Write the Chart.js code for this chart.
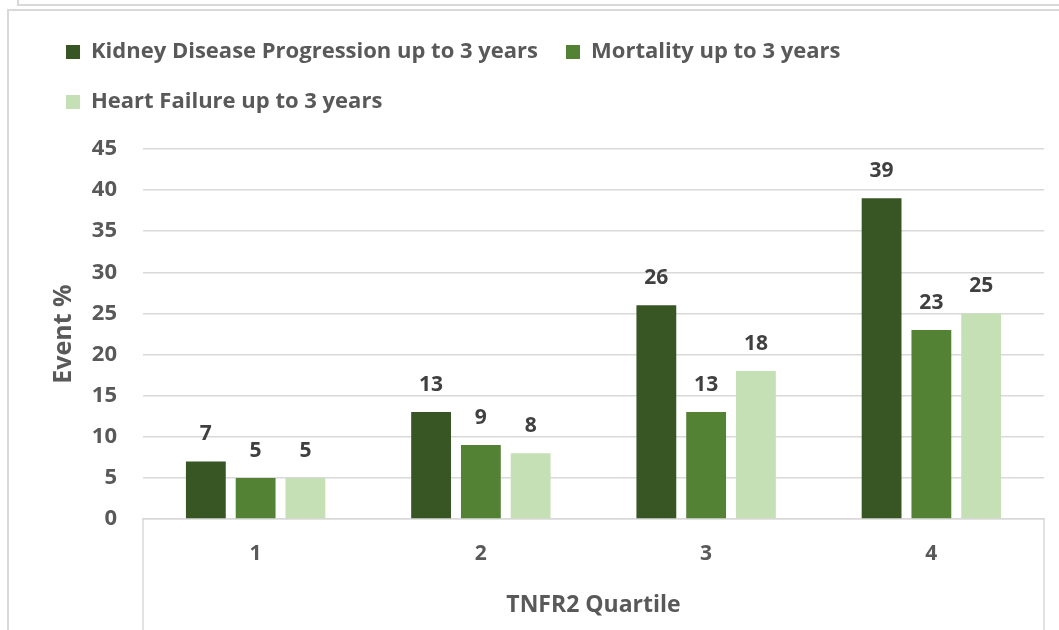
<!DOCTYPE html>
<html>
<head>
<meta charset="utf-8">
<script src="https://cdn.jsdelivr.net/npm/chart.js@4.4.1/dist/chart.umd.min.js"></script>
<style>
  html, body { margin: 0; padding: 0; background: #ffffff; overflow: hidden; }
  #wrap { position: relative; width: 1059px; height: 630px; }
  #frameTop { position: absolute; left: 17px; top: -10px; width: 2000px; height: 14px;
              border-left: 2px solid #d9d9d9; border-bottom: 2px solid #d9d9d9; }
  #frame { position: absolute; left: 7px; top: 9px; width: 2000px; height: 2000px;
           border-left: 2px solid #d9d9d9; border-top: 2px solid #d9d9d9; }
  canvas { position: absolute; left: 0; top: 0; }
</style>
</head>
<body>
<div id="wrap">
  <div id="frameTop"></div>
  <div id="frame"></div>
  <canvas id="c" width="1059" height="630"></canvas>
</div>
<script>
const categories = ['1', '2', '3', '4'];
const seriesNames = ['Kidney Disease Progression up to 3 years', 'Mortality up to 3 years', 'Heart Failure up to 3 years'];
const kidneyProgression = [7, 13, 26, 39];
const mortality = [5, 9, 13, 23];
const heartFailure = [5, 8, 18, 25];
const yTicks = [0, 5, 10, 15, 20, 25, 30, 35, 40, 45];
const colors = ['#375623', '#548235', '#c5e0b4'];

const FONT = '"Open Sans", "Noto Sans", sans-serif';
const GRID = '#d9d9d9';

const dataLabels = {
  id: 'dataLabels',
  afterDatasetsDraw(chart) {
    const ctx = chart.ctx;
    ctx.save();
    ctx.font = 'bold 21px ' + FONT;
    ctx.fillStyle = '#404040';
    ctx.textAlign = 'center';
    ctx.textBaseline = 'middle';
    chart.data.datasets.forEach((ds, i) => {
      const meta = chart.getDatasetMeta(i);
      meta.data.forEach((bar, j) => {
        ctx.fillText(String(ds.data[j]), bar.x, bar.y - 27);
      });
    });
    ctx.restore();
  }
};

const edgeLines = {
  id: 'edgeLines',
  afterDraw(chart) {
    const ctx = chart.ctx, a = chart.chartArea;
    ctx.save();
    ctx.strokeStyle = GRID;
    ctx.lineWidth = 1.5;
    ctx.beginPath();
    ctx.moveTo(a.left, a.bottom);
    ctx.lineTo(a.left, chart.height);
    ctx.moveTo(a.right, a.bottom);
    ctx.lineTo(a.right, chart.height);
    ctx.stroke();
    ctx.restore();
  }
};

const legendHeight = {
  id: 'legendHeight',
  beforeUpdate(chart) {
    const lg = chart.legend;
    if (lg && !lg._patched) {
      lg._patched = true;
      const origFit = lg.fit.bind(lg);
      lg.fit = function () { origFit(); this.height = 136; };
    }
  }
};

new Chart(document.getElementById('c'), {
  type: 'bar',
  data: {
    labels: categories,
    datasets: [
      { label: seriesNames[0], data: kidneyProgression, backgroundColor: colors[0], borderWidth: 0 },
      { label: seriesNames[1], data: mortality, backgroundColor: colors[1], borderWidth: 0 },
      { label: seriesNames[2], data: heartFailure, backgroundColor: colors[2], borderWidth: 0 }
    ]
  },
  options: {
    responsive: false,
    animation: false,
    devicePixelRatio: 1,
    layout: { padding: { left: 38, right: 15, top: 13, bottom: 0 } },
    datasets: { bar: { categoryPercentage: 0.663, barPercentage: 0.8 } },
    plugins: {
      tooltip: { enabled: false },
      legend: {
        position: 'top',
        align: 'start',
        labels: {
          boxWidth: 14,
          boxHeight: 14,
          padding: 28,
          color: '#595959',
          font: { family: FONT, size: 22, weight: 'bold' }
        }
      }
    },
    scales: {
      x: {
        grid: { display: false, drawTicks: false },
        border: { display: true, color: GRID, width: 1.5 },
        ticks: { color: '#595959', padding: 22, font: { family: FONT, size: 21, weight: 'bold' } },
        title: { display: true, text: 'TNFR2 Quartile', color: '#595959',
                 font: { family: FONT, size: 23, weight: 'bold' }, padding: { top: 0, bottom: 11 } },
        afterFit(scale) { scale.height = 111; }
      },
      y: {
        min: 0,
        max: 45,
        afterBuildTicks(scale) { scale.ticks = yTicks.map(v => ({ value: v })); },
        grid: { color: GRID, lineWidth: 1.5, drawTicks: false },
        border: { display: false },
        ticks: { color: '#595959', padding: 26, font: { family: FONT, size: 22, weight: 'bold' } },
        title: { display: true, text: 'Event %', color: '#595959',
                 font: { family: FONT, size: 25, weight: 'bold' }, padding: { top: 11, bottom: 0 } },
        afterFit(scale) { scale.width = 105; }
      }
    }
  },
  plugins: [dataLabels, edgeLines, legendHeight]
});
</script>
</body>
</html>
